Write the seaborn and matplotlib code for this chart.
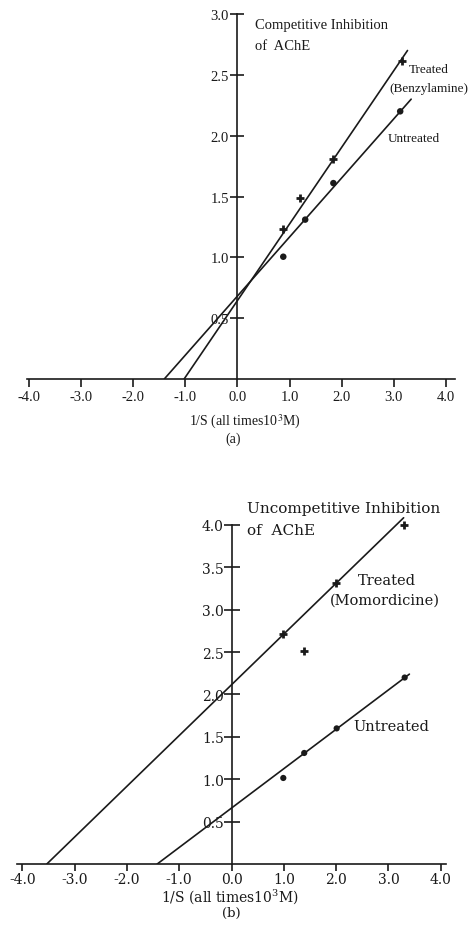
import matplotlib
matplotlib.use("Agg")
import matplotlib.pyplot as plt
import seaborn as sns
import pandas as pd

# ---------------- data ----------------
# Panel (a): competitive inhibition
a_treated_x = [0.87, 1.20, 1.84, 3.15]
a_treated_y = [1.23, 1.49, 1.81, 2.61]
a_untreated_x = [0.88, 1.30, 1.84, 3.12]
a_untreated_y = [1.005, 1.31, 1.61, 2.20]
a_treated_fit_x = [-1.02, 3.26]
a_treated_fit_y = [0.0, 2.70]
a_untreated_fit_x = [-1.40, 3.33]
a_untreated_fit_y = [0.0, 2.30]

# Panel (b): uncompetitive inhibition
b_treated_x = [0.99, 1.39, 2.00, 3.29]
b_treated_y = [2.71, 2.51, 3.31, 4.00]
b_untreated_x = [0.99, 1.39, 2.01, 3.31]
b_untreated_y = [1.015, 1.31, 1.60, 2.20]
b_treated_fit_x = [-3.53, 3.29]
b_treated_fit_y = [0.0, 4.085]
b_untreated_fit_x = [-1.42, 3.40]
b_untreated_fit_y = [0.0, 2.24]

x_ticks = [-4.0, -3.0, -2.0, -1.0, 0.0, 1.0, 2.0, 3.0, 4.0]
x_tick_labels = ["-4.0", "-3.0", "-2.0", "-1.0", "0.0", "1.0", "2.0", "3.0", "4.0"]
a_y_ticks = [0.5, 1.0, 1.5, 2.0, 2.5, 3.0]
b_y_ticks = [0.5, 1.0, 1.5, 2.0, 2.5, 3.0, 3.5, 4.0]

sns.set_theme(style="white")
plt.rcParams['font.family'] = ['Liberation Serif', 'DejaVu Serif']

W, H = 468, 928
fig = plt.figure(figsize=(W / 100, H / 100), dpi=100)


def px_axes(left, right, top, bottom):
    return fig.add_axes([left / W, 1 - bottom / H, (right - left) / W, (bottom - top) / H])


INK = "#1a1a1a"


def style_axes(ax, yticks, ytop, fam, fs, xtick_len, ytick_len, xpad, ypad):
    for s in ("top", "right"):
        ax.spines[s].set_visible(False)
    ax.spines["left"].set_position(("data", 0))
    ax.spines["left"].set_bounds(0, ytop)
    for s in ("left", "bottom"):
        ax.spines[s].set_linewidth(1.2)
        ax.spines[s].set_color(INK)
    ax.set_xticks(x_ticks)
    ax.set_xticklabels(x_tick_labels, family=fam, fontsize=fs, color=INK)
    ax.set_yticks(yticks)
    ax.set_yticklabels([f"{v:.1f}" for v in yticks], family=fam, fontsize=fs, color=INK)
    ax.tick_params(axis="x", direction="out", length=xtick_len, width=1.2, color=INK, pad=xpad, bottom=True)
    ax.tick_params(axis="y", direction="inout", length=ytick_len, width=1.2, color=INK, pad=ypad, left=True)
    ax.grid(False)
    ax.set_facecolor("none")
    ax.set_xlabel("")
    ax.set_ylabel("")


# ---------------- panel (a) ----------------
ax1 = px_axes(27, 455, 15, 380)
sns.lineplot(x=a_treated_fit_x, y=a_treated_fit_y, color=INK, lw=1.2, estimator=None, ax=ax1)
sns.lineplot(x=a_untreated_fit_x, y=a_untreated_fit_y, color=INK, lw=1.2, estimator=None, ax=ax1)
sns.scatterplot(x=a_treated_x, y=a_treated_y, marker="+", s=40, linewidth=2, color=INK, ax=ax1, zorder=3)
sns.scatterplot(x=a_untreated_x, y=a_untreated_y, marker="o", s=22, color=INK, edgecolor="none", ax=ax1, zorder=3)
ax1.set_xlim(-4.03, 4.17)
ax1.set_ylim(0, 3.0)
style_axes(ax1, a_y_ticks, 3.0, "Liberation Serif", 10.5, 6, 10, 2, 1)

fa = dict(family="Liberation Serif", color=INK)
ax1.text(0.34, 2.91, "Competitive Inhibition", fontsize=10.5, ha="left", va="center", **fa)
ax1.text(0.34, 2.74, "of  AChE", fontsize=10.5, ha="left", va="center", **fa)
ax1.text(3.67, 2.55, "Treated", fontsize=9.5, ha="center", va="center", **fa)
ax1.text(3.67, 2.39, "(Benzylamine)", fontsize=9.5, ha="center", va="center", clip_on=False, **fa)
ax1.text(2.89, 1.98, "Untreated", fontsize=9.5, ha="left", va="center", **fa)
ax1.text(0.15, -0.345, "1/S (all times10$^3$M)", fontsize=10, ha="center", va="center",
         math_fontfamily="stix", **fa)
ax1.text(-0.08, -0.49, "(a)", fontsize=10, ha="center", va="center", **fa)

# ---------------- panel (b) ----------------
ax2 = px_axes(17, 446, 517.5, 865)
sns.lineplot(x=b_treated_fit_x, y=b_treated_fit_y, color=INK, lw=1.2, estimator=None, ax=ax2)
sns.lineplot(x=b_untreated_fit_x, y=b_untreated_fit_y, color=INK, lw=1.2, estimator=None, ax=ax2)
sns.scatterplot(x=b_treated_x, y=b_treated_y, marker="+", s=36, linewidth=2, color=INK, ax=ax2, zorder=3)
sns.scatterplot(x=b_untreated_x, y=b_untreated_y, marker="o", s=20, color=INK, edgecolor="none", ax=ax2, zorder=3)
ax2.set_xlim(-4.10, 4.10)
ax2.set_ylim(0, 4.1)
style_axes(ax2, b_y_ticks, 4.0, "DejaVu Serif", 10, 5, 11, 1, 0)

fb = dict(family="DejaVu Serif", color=INK)
ax2.text(0.30, 4.20, "Uncompetitive Inhibition", fontsize=11, ha="left", va="center", clip_on=False, **fb)
ax2.text(0.30, 3.94, "of  AChE", fontsize=11, ha="left", va="center", **fb)
ax2.text(2.97, 3.35, "Treated", fontsize=10.5, ha="center", va="center", **fb)
ax2.text(2.94, 3.115, "(Momordicine)", fontsize=10.5, ha="center", va="center", **fb)
ax2.text(2.32, 1.63, "Untreated", fontsize=10.5, ha="left", va="center", **fb)
ax2.text(-0.04, -0.37, "1/S (all times10$^3$M)", fontsize=10, ha="center", va="center",
         math_fontfamily="dejavuserif", **fb)
ax2.text(0.0, -0.57, "(b)", fontsize=9.5, ha="center", va="center", **fb)

fig.savefig("out.png", dpi=100)
